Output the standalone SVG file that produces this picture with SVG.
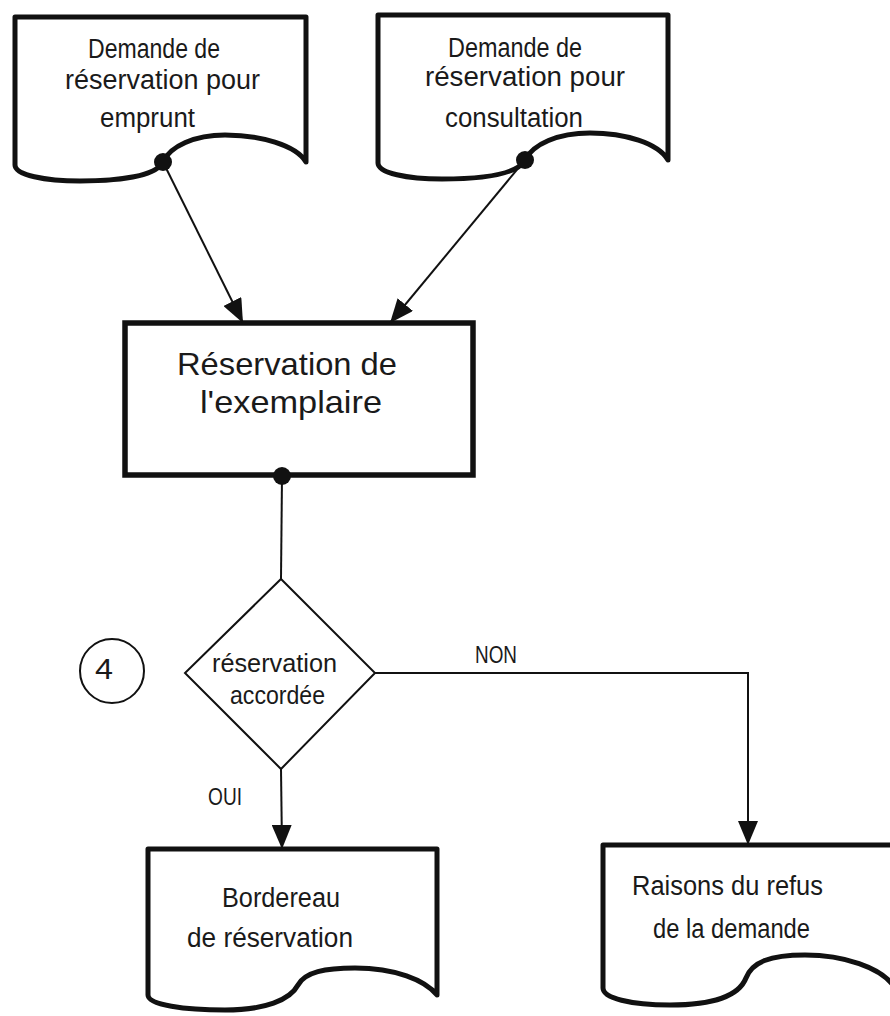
<svg xmlns="http://www.w3.org/2000/svg" width="890" height="1016" viewBox="0 0 890 1016">
<defs>
<style>
.doc{fill:#fff;stroke:#111;stroke-width:5;stroke-linejoin:round}
.proc{fill:#fff;stroke:#111;stroke-width:5.5}
.dec{fill:#fff;stroke:#111;stroke-width:2}
.ln{fill:none;stroke:#111;stroke-width:2}
.dot{fill:#111}
text{font-family:"Liberation Sans","DejaVu Sans",sans-serif;fill:#1a1a1a}
.t1{font-size:27px}
.t2{font-size:32px}
.t3{font-size:25px}
.t4{font-size:23px}
</style>
<marker id="arr" markerWidth="24" markerHeight="20" refX="24" refY="10" orient="auto" markerUnits="userSpaceOnUse">
<path d="M0,0 L24,10 L0,20 Z" fill="#111"/>
</marker>
</defs>
<rect width="890" height="1016" fill="#fff"/>

<g id="doc-emprunt">
<path class="doc" d="M15,17 H306 V162 C296,145 260,135 225,135 C195,135 170,146 163,162 C156,176 120,181 80,181 C45,181 15,175 15,165 Z"/>
<text class="t1" x="88" y="58" textLength="132" lengthAdjust="spacingAndGlyphs">Demande de</text>
<text class="t1" x="65" y="89" textLength="195" lengthAdjust="spacingAndGlyphs">réservation pour</text>
<text class="t1" x="100" y="127" textLength="95" lengthAdjust="spacingAndGlyphs">emprunt</text>
</g>

<g id="doc-consultation">
<path class="doc" d="M378,15 H668 V160 C658,143 625,133 590,133 C558,133 533,144 525,160 C517,175 482,179 442,179 C407,179 378,173 378,163 Z"/>
<text class="t1" x="448" y="57" textLength="134" lengthAdjust="spacingAndGlyphs">Demande de</text>
<text class="t1" x="425" y="86" textLength="200" lengthAdjust="spacingAndGlyphs">réservation pour</text>
<text class="t1" x="445" y="127" textLength="138" lengthAdjust="spacingAndGlyphs">consultation</text>
</g>

<g id="proc-reservation">
<rect class="proc" x="125" y="323" width="348" height="152"/>
<text class="t2" x="177" y="375" textLength="220" lengthAdjust="spacingAndGlyphs">Réservation de</text>
<text class="t2" x="200" y="413" textLength="182" lengthAdjust="spacingAndGlyphs">l'exemplaire</text>
</g>

<g id="decision">
<polygon class="dec" points="281,579 375,673 281,769 185,673"/>
<text class="t3" x="212" y="672" textLength="125" lengthAdjust="spacingAndGlyphs">réservation</text>
<text class="t3" x="230" y="704" textLength="95" lengthAdjust="spacingAndGlyphs">accordée</text>
</g>

<g id="label-4">
<circle cx="112" cy="671" r="32" fill="none" stroke="#111" stroke-width="2"/>
<text x="95" y="679" font-size="29" textLength="18" lengthAdjust="spacingAndGlyphs">4</text>
</g>

<g id="doc-bordereau">
<path class="doc" d="M148,849 H437 V995 C425,980 395,968 355,968 C325,968 305,972 298,985 C290,1000 265,1010 225,1010 C185,1010 148,1005 148,995 Z"/>
<text class="t1" x="222" y="907" textLength="118" lengthAdjust="spacingAndGlyphs">Bordereau</text>
<text class="t1" x="187" y="947" textLength="166" lengthAdjust="spacingAndGlyphs">de réservation</text>
</g>

<g id="doc-refus">
<path class="doc" d="M603,845 H893 V985 C880,968 845,955 805,955 C770,955 752,962 746,978 C738,998 710,1005 670,1005 C630,1005 603,998 603,988 Z"/>
<text class="t1" x="632" y="895" textLength="191" lengthAdjust="spacingAndGlyphs">Raisons du refus</text>
<text class="t1" x="653" y="938" textLength="157" lengthAdjust="spacingAndGlyphs">de la demande</text>
</g>

<g id="connectors">
<line class="ln" x1="163" y1="162" x2="243" y2="323" marker-end="url(#arr)"/>
<line class="ln" x1="525" y1="160" x2="390" y2="323" marker-end="url(#arr)"/>
<line class="ln" x1="282" y1="476" x2="281" y2="579"/>
<line class="ln" x1="281" y1="769" x2="282" y2="849" marker-end="url(#arr)"/>
<polyline class="ln" points="375,673 748,673 748,845" marker-end="url(#arr)"/>
<circle class="dot" cx="163" cy="162" r="9"/>
<circle class="dot" cx="525" cy="160" r="9"/>
<circle class="dot" cx="282" cy="476" r="9"/>
<text class="t4" x="475" y="663" textLength="42" lengthAdjust="spacingAndGlyphs">NON</text>
<text class="t4" x="208" y="805" textLength="34" lengthAdjust="spacingAndGlyphs">OUI</text>
</g>
</svg>
